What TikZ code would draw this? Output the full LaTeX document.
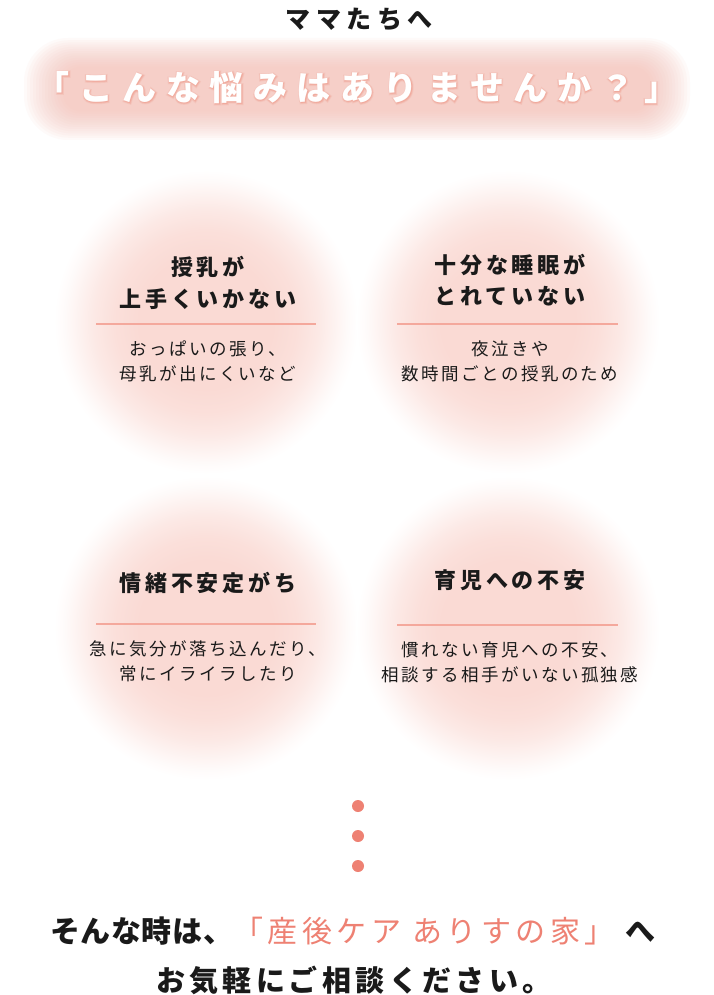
\documentclass[tikz,border=0pt]{standalone}
\usepackage{fontspec}
\newfontfamily\jp{Noto Sans CJK JP}
\definecolor{glowc}{HTML}{FADAD4}
\definecolor{tglow}{HTML}{F6B8AD}
\definecolor{halo}{HTML}{EF9686}
\definecolor{salm}{HTML}{EE8173}
\definecolor{rule}{HTML}{F4A89C}
\definecolor{ink}{HTML}{1A1A1A}
\pgfdeclareradialshading{glow}{\pgfpoint{0bp}{0bp}}{%
  color(0bp)=(glowc);color(11bp)=(glowc);color(15bp)=(glowc!85!white);%
  color(18.5bp)=(glowc!60!white);color(21bp)=(glowc!35!white);color(23.3bp)=(glowc!12!white);%
  color(25bp)=(white);color(50bp)=(white)}
\tikzset{
  ttl/.style={text=ink,font=\jp\bfseries\fontsize{22}{26}\selectfont\addfontfeature{LetterSpace=17},inner sep=0pt},
  sub/.style={text=ink,font=\jp\fontsize{17.5}{21}\selectfont\addfontfeature{LetterSpace=14},inner sep=0pt},
  rulel/.style={draw=rule,line width=2pt},
  dot/.style={fill=salm},
  bigt/.style={font=\jp\bfseries\fontsize{34}{40}\selectfont\addfontfeature{LetterSpace=28},inner sep=0pt},
  halot/.style={text=halo,inner sep=0pt,font=\jp\bfseries\fontsize{34}{40}\selectfont\addfontfeature{LetterSpace=28,FakeBold=#1}},
  bot/.style={text=ink,font=\jp\fontsize{30}{35}\selectfont,inner sep=0pt,anchor=west}
}
\begin{document}
\begin{tikzpicture}[x=1pt,y=-1pt]
\useasboundingbox (0,0) rectangle (714,995);
\fill[white] (0,0) rectangle (714,995);
% glow circles
\foreach \cx/\cy in {206/322,508/322,206/628,508/628}
  \shade[shading=glow] (\cx,\cy) circle[radius=152pt];
% title glow
\foreach \i in {0,...,13}
  \fill[tglow,opacity=0.065,rounded corners={(44-2*\i)*1pt}] (24+\i*3,38+\i*2.2) rectangle (690-\i*3,140-\i*2.2);
\node[text=ink,font=\jp\bfseries\fontsize{25}{29}\selectfont\addfontfeature{LetterSpace=22},inner sep=0pt] (mama) at (359,19) {ママたちへ};
\node[halot=9,opacity=0.17] (h1) at (357,88) {「こんな悩みはありませんか？」};
\node[halot=4.5,opacity=0.27] (h2) at (357,88) {「こんな悩みはありませんか？」};
\node[bigt,text=white] (title) at (357,88) {「こんな悩みはありませんか？」};
% circle 1
\node[ttl] (t1a) at (208,267) {授乳が};
\node[ttl] (t1b) at (208,299) {上手くいかない};
\coordinate (r1l) at (96,324); \coordinate (r1r) at (316,324);
\draw[rulel] (r1l) -- (r1r);
\node[sub] (s1a) at (208,349) {おっぱいの張り、};
\node[sub] (s1b) at (208,374) {母乳が出にくいなど};
% circle 2
\node[ttl] (t2a) at (510,265) {十分な睡眠が};
\node[ttl] (t2b) at (510,296) {とれていない};
\coordinate (r2l) at (397,324); \coordinate (r2r) at (618,324);
\draw[rulel] (r2l) -- (r2r);
\node[sub] (s2a) at (510,349) {夜泣きや};
\node[sub] (s2b) at (510,374) {数時間ごとの授乳のため};
% circle 3
\node[ttl] (t3a) at (208,583) {情緒不安定がち};
\coordinate (r3l) at (96,624); \coordinate (r3r) at (316,624);
\draw[rulel] (r3l) -- (r3r);
\node[sub] (s3a) at (208,649) {急に気分が落ち込んだり、};
\node[sub] (s3b) at (208,674) {常にイライラしたり};
% circle 4
\node[ttl] (t4a) at (510,580) {育児への不安};
\coordinate (r4l) at (397,625); \coordinate (r4r) at (618,625);
\draw[rulel] (r4l) -- (r4r);
\node[sub] (s4a) at (510,650) {慣れない育児への不安、};
\node[sub] (s4b) at (510,675) {相談する相手がいない孤独感};
% dots
\fill[dot] (358,806) circle[radius=6pt];
\fill[dot] (358,836) circle[radius=6pt];
\fill[dot] (358,866) circle[radius=6pt];
% bottom
\node[bot] (b1) at (50,931) {{\bfseries\addfontfeature{LetterSpace=2}そんな時は、}{\color{salm}\addfontfeature{LetterSpace=15}「産後ケア ありすの家」}\hspace{11pt}{\bfseries へ}};
\node[bot,font=\jp\bfseries\fontsize{29}{34}\selectfont\addfontfeature{LetterSpace=15}] (b2) at (156,980) {お気軽にご相談ください。};
\end{tikzpicture}
\end{document}
